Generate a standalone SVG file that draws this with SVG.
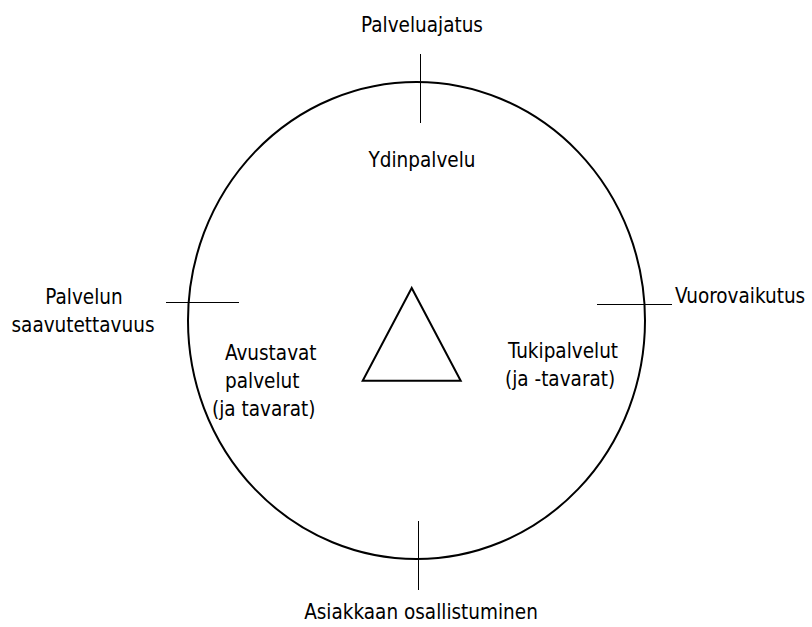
<svg xmlns="http://www.w3.org/2000/svg" width="812" height="627" viewBox="0 0 812 627">
<style>
text{font-family:"DejaVu Sans Condensed","DejaVu Sans",sans-serif;font-stretch:condensed;font-size:20.5px;fill:#000}
.c{text-anchor:middle}
.tick{stroke:#000;stroke-width:1}
.shape{fill:none;stroke:#000;stroke-width:2}
</style>
<rect width="812" height="627" fill="#fff"/>
<g id="circle"><ellipse class="shape" cx="416.5" cy="320.5" rx="228.5" ry="238.5"/></g>
<g id="triangle"><polygon class="shape" points="411.7,288 362.7,380.7 460.7,380.7"/></g>
<g id="connectors">
<line class="tick" x1="420.5" y1="54" x2="420.5" y2="123"/>
<line class="tick" x1="418.5" y1="521" x2="418.5" y2="590"/>
<line class="tick" x1="166" y1="302.5" x2="239" y2="302.5"/>
<line class="tick" x1="597" y1="304.5" x2="672" y2="304.5"/>
</g>
<g id="palveluajatus"><text class="c" x="422" y="32">Palveluajatus</text></g>
<g id="ydinpalvelu"><text class="c" x="422" y="166.5">Ydinpalvelu</text></g>
<g id="palvelun-saavutettavuus"><text class="c" x="84" y="304">Palvelun</text><text class="c" x="83" y="331.5">saavutettavuus</text></g>
<g id="vuorovaikutus"><text x="675" y="303">Vuorovaikutus</text></g>
<g id="avustavat"><text x="225" y="359.5">Avustavat</text><text x="225" y="387.5">palvelut</text><text x="212" y="415.5">(ja tavarat)</text></g>
<g id="tukipalvelut"><text x="508" y="358">Tukipalvelut</text><text x="505" y="386">(ja -tavarat)</text></g>
<g id="asiakkaan"><text class="c" x="421" y="619">Asiakkaan osallistuminen</text></g>
</svg>
